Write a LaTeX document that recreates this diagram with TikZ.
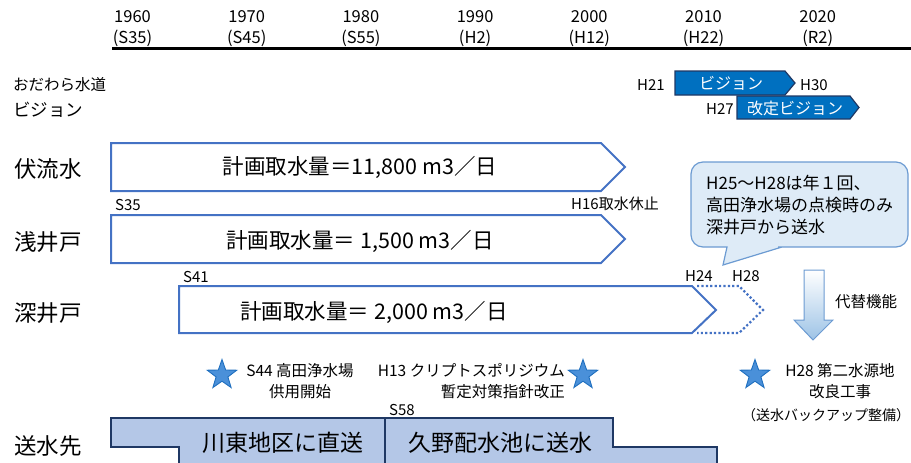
\documentclass[tikz,border=0pt]{standalone}
\usepackage{fontspec}
\setmainfont{Noto Sans CJK JP}
\usetikzlibrary{shapes.geometric}
\definecolor{flowblue}{HTML}{4472C4}
\definecolor{visblue}{HTML}{0070C0}
\definecolor{navy}{HTML}{1F3864}
\definecolor{destfill}{HTML}{B4C7E7}
\definecolor{callfill}{HTML}{DEEBF7}
\definecolor{callborder}{HTML}{6C9BD2}
\definecolor{starfill}{HTML}{4A90D9}
\definecolor{stardraw}{HTML}{1F6FBF}
\definecolor{arrowfill}{HTML}{9DC3E6}
\tikzset{
  yearlab/.style={font=\fontsize{16.5}{18}\selectfont, inner sep=0pt},
  rowlab/.style={font=\fontsize{22.5}{25}\selectfont, anchor=west, inner sep=0pt},
  smalllab/.style={font=\fontsize{15}{17}\selectfont, anchor=west, inner sep=0pt},
  boxtxt/.style={font=\fontsize{21.5}{23}\selectfont, inner sep=0pt},
  desttxt/.style={font=\fontsize{23}{25}\selectfont, inner sep=0pt},
  flowbox/.style={draw=flowblue, line width=2pt, fill=white, line join=miter},
  flowdot/.style={draw=flowblue, line width=2.2pt, dash pattern=on 2.2pt off 2.2pt},
  visbox/.style={fill=visblue, draw=navy, line width=1.2pt},
  vistxt/.style={font=\fontsize{16}{18}\selectfont, text=white, inner sep=0pt},
  starlab/.style={font=\fontsize{15.5}{21}\selectfont, inner sep=0pt},
  mystar/.style={star, star points=5, star point ratio=2.5, minimum size=31pt, inner sep=0pt, fill=starfill, draw=stardraw, line width=0.9pt},
  destshape/.style={fill=destfill, draw=navy, line width=2.5pt},
  callbox/.style={fill=callfill, draw=callborder, line width=1.2pt},
  downarrow/.style={draw=callborder, line width=1pt, top color=white, bottom color=arrowfill},
  axisline/.style={draw=black, line width=3pt}
}
\begin{document}
\begin{tikzpicture}[x=1pt,y=-1pt]
\useasboundingbox (0,0) rectangle (911,463);

% timeline axis
\foreach \yr/\era [count=\i from 0] in {1960/S35,1970/S45,1980/S55,1990/H2,2000/H12,2010/H22,2020/R2}{
  \node[yearlab] (y\yr) at ({132.5+114.2*\i},17) {\yr};
  \node[yearlab] (e\yr) at ({132.5+114.2*\i},38) {(\era)};
}
\path[axisline] (112,48) -- (911,48);

% vision row
\node[anchor=west, inner sep=0pt, font=\fontsize{15.5}{17}\selectfont] (odawara) at (13,85) {おだわら水道};
\node[anchor=west, inner sep=0pt, font=\fontsize{17.5}{20}\selectfont] (visionlab) at (13,110) {ビジョン};
\node[smalllab] (h21) at (637,85) {H21};
\path[visbox] (675,71) -- (785,71) -- (795,83) -- (785,95) -- (675,95) -- cycle;
\node[vistxt] (v1) at (731,83) {ビジョン};
\node[smalllab] (h30) at (800,85) {H30};
\node[smalllab] (h27) at (706,109) {H27};
\path[visbox] (737,96) -- (850,96) -- (859,107.5) -- (850,119) -- (737,119) -- cycle;
\node[vistxt] (v2) at (795,108) {改定ビジョン};

% flows
\node[rowlab] (fuku) at (14,169) {伏流水};
\path[flowbox] (111,143) -- (601,143) -- (625,167) -- (601,191) -- (111,191) -- cycle;
\node[boxtxt] (t1) at (360,167) {計画取水量＝11,800 m3／日};
\node[smalllab] (s35) at (115,205) {S35};
\node[smalllab] (h16) at (571,204) {H16取水休止};

\node[rowlab] (asai) at (14,242) {浅井戸};
\path[flowbox] (111,215) -- (601,215) -- (625,239) -- (601,263) -- (111,263) -- cycle;
\node[boxtxt] (t2) at (360,241) {計画取水量＝ 1,500 m3／日};
\node[smalllab] (s41) at (183,277) {S41};

\node[rowlab] (fukai) at (14,313) {深井戸};
\path[flowbox] (179,286) -- (692,286) -- (716,310) -- (692,333) -- (179,333) -- cycle;
\node[boxtxt] (t3) at (374,312) {計画取水量＝ 2,000 m3／日};
\path[flowdot] (697,286) -- (739,286) -- (763,310) -- (739,333) -- (697,333);
\node[smalllab] (h24) at (685,276) {H24};
\node[smalllab] (h28a) at (732,276) {H28};

% callout
\path[callbox] (691,205) [rounded corners=12pt] -- (691,162) -- (908,162) -- (908,247) -- (790,247) [sharp corners] -- (782,247) -- (723,265) -- (727,247) -- (715,247) [rounded corners=12pt] -- (691,247) -- cycle;
\node[anchor=west, align=left, inner sep=0pt, font=\fontsize{17}{22}\selectfont] (callt) at (706,205) {H25～H28は年１回、\\高田浄水場の点検時のみ\\深井戸から送水};

% substitute arrow
\path[downarrow] (804,270) -- (824,270) -- (824,320) -- (833,320) -- (813,340) -- (794,320) -- (804,320) -- cycle;
\node[anchor=west, inner sep=0pt, font=\fontsize{15.5}{17}\selectfont] (daitai) at (835,302) {代替機能};

% events
\node[mystar] (st1) at (222,375) {};
\node[starlab, align=center] (ev1) at (300,381.5) {S44 高田浄水場\\供用開始};
\node[starlab, align=right, anchor=east] (ev2) at (565,381.5) {H13 クリプトスポリジウム\\暫定対策指針改正};
\node[mystar] (st2) at (583,375) {};
\node[mystar] (st3) at (755,375) {};
\node[starlab, align=center] (ev3) at (840,381.5) {H28 第二水源地\\改良工事};
\node[starlab, font=\fontsize{14}{16}\selectfont] (ev3b) at (826,415) {（送水バックアップ整備）};

% destination
\node[rowlab] (sousui) at (14,446) {送水先};
\node[smalllab] (s58) at (389,410) {S58};
\path[destshape] (179,475) -- (179,447) -- (111,447) -- (111,418) -- (613,418) -- (613,447) -- (717,447) -- (717,475);
\draw[navy, line width=2pt] (385,418) -- (385,475);
\node[desttxt] (d1) at (283,443) {川東地区に直送};
\node[desttxt] (d2) at (500,443) {久野配水池に送水};
\end{tikzpicture}
\end{document}
